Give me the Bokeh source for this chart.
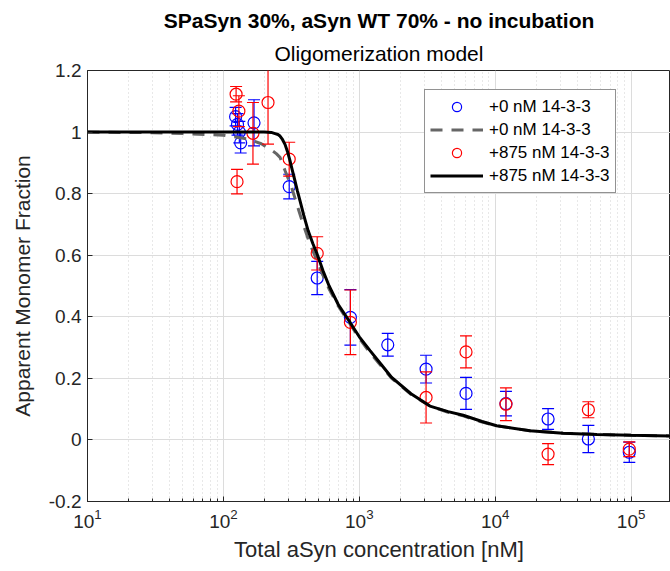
import numpy as np
from bokeh.plotting import figure
from bokeh.models import (FixedTicker, PrintfTickFormatter, Legend, LegendItem,
                          Title, Range1d, ColumnDataSource)
from bokeh.embed import file_html
from bokeh.resources import INLINE

# ---------------- data ----------------
blue_x = [123, 127, 131, 134, 168, 305, 490, 860, 1620, 3100, 6100, 12000, 24500, 48500, 97000]
blue_y = [1.05, 1.025, 1.0, 0.965, 1.03, 0.823, 0.526, 0.398, 0.309, 0.230, 0.151, 0.118, 0.068, 0.003, -0.04]
blue_err = [0.03, 0.035, 0.035, 0.033, 0.075, 0.04, 0.054, 0.09, 0.037, 0.045, 0.052, 0.04, 0.034, 0.044, 0.033]

red_x = [124, 130, 126, 165, 213, 305, 490, 860, 3100, 6100, 12000, 24500, 48500, 97000]
red_y = [1.123, 1.068, 0.839, 0.996, 1.096, 0.912, 0.606, 0.382, 0.138, 0.286, 0.116, -0.046, 0.098, -0.03]
red_err = [0.025, 0.05, 0.04, 0.1, 0.135, 0.055, 0.054, 0.105, 0.083, 0.052, 0.053, 0.034, 0.026, 0.024]

fit0_x = [10, 30, 50, 100, 150, 190, 220, 245, 261, 284, 318, 350, 387, 430, 480, 540, 600, 700,
          860, 1000, 1200, 1450, 1731, 2400, 3311, 4500, 5820, 8000, 10240, 18000, 31600, 56000, 100000, 200000]
fit0_y = [1.0, 0.998, 0.995, 0.99, 0.978, 0.962, 0.945, 0.93, 0.918, 0.875, 0.82, 0.76, 0.70, 0.64, 0.59,
          0.535, 0.49, 0.435, 0.375, 0.33, 0.283, 0.24, 0.2, 0.148, 0.11, 0.09, 0.078, 0.058, 0.046, 0.03,
          0.022, 0.018, 0.015, 0.013]

fit875_x = [10, 30, 100, 200, 225, 240, 252, 261, 272, 284, 296, 309, 322, 336, 350, 366, 390, 420, 455,
            493, 540, 600, 700, 860, 1000, 1200, 1450, 1731, 2400, 3311, 4500, 5820, 8000, 10240, 18000,
            31600, 56000, 100000, 200000]
fit875_y = [1.0, 1.0, 1.0, 1.0, 0.999, 0.995, 0.992, 0.987, 0.976, 0.96, 0.937, 0.907, 0.875, 0.842, 0.81,
            0.777, 0.73, 0.68, 0.638, 0.60, 0.55, 0.5, 0.44, 0.38, 0.335, 0.29, 0.245, 0.203, 0.15, 0.11,
            0.092, 0.08, 0.06, 0.046, 0.03, 0.022, 0.018, 0.015, 0.013]

x_major_ticks = [10, 100, 1000, 10000, 100000]
x_minor_ticks = [m * d for d in [10, 100, 1000, 10000, 100000] for m in range(2, 10)]
y_ticks = [-0.2, 0, 0.2, 0.4, 0.6, 0.8, 1.0, 1.2]

title_text = "SPaSyn 30%, aSyn WT 70% - no incubation"
subtitle_text = "Oligomerization model"
x_label = "Total aSyn concentration [nM]"
y_label = "Apparent Monomer Fraction"
legend_labels = ["+0 nM 14-3-3", "+0 nM 14-3-3", "+875 nM 14-3-3", "+875 nM 14-3-3"]

# ---------------- figure ----------------
FONT = "Liberation Sans"
TXT = "#262626"

p = figure(width=670, height=571, x_axis_type="log",
           x_range=Range1d(10, 1.95e5), y_range=Range1d(-0.2, 1.2),
           output_backend="svg", toolbar_location=None, title_location=None,
           min_border_left=87, min_border_right=0, min_border_top=70, min_border_bottom=70)

p.background_fill_color = "white"
p.border_fill_color = "white"
p.outline_line_color = TXT
p.outline_line_width = 1

# titles (first added is nearest to the frame)
p.add_layout(Title(text=subtitle_text, align="center", text_font=FONT, text_font_size="21px",
                   text_font_style="normal", text_color="black", standoff=12), "above")
p.add_layout(Title(text=title_text, align="center", text_font=FONT, text_font_size="21px",
                   text_font_style="bold", text_color="black", standoff=4), "above")

# axes
xa = p.xaxis[0]
xa.ticker = FixedTicker(ticks=x_major_ticks, minor_ticks=x_minor_ticks)
xa.axis_label = x_label
ya = p.yaxis[0]
ya.ticker = FixedTicker(ticks=y_ticks)
ya.formatter = PrintfTickFormatter(format="%g")
ya.axis_label = y_label
for ax in (xa, ya):
    ax.axis_label_text_font = FONT
    ax.axis_label_text_font_size = "21px"
    ax.axis_label_text_font_style = "normal"
    ax.axis_label_text_color = TXT
    ax.major_label_text_font = FONT
    ax.major_label_text_font_size = "19px"
    ax.major_label_text_color = TXT
    ax.axis_line_color = TXT
    ax.major_tick_line_color = TXT
    ax.minor_tick_line_color = TXT
    ax.major_tick_in = 5
    ax.major_tick_out = 0
    ax.minor_tick_in = 3
    ax.minor_tick_out = 0
ya.minor_tick_line_color = None
xa.axis_label_text_font_size = "22px"
xa.major_label_standoff = 7
xa.axis_label_standoff = 6
ya.major_label_standoff = 6
ya.axis_label_standoff = 12

# grids
p.xgrid.ticker = xa.ticker
p.ygrid.ticker = ya.ticker
p.xgrid.grid_line_color = "#dcdcdc"
p.ygrid.grid_line_color = "#dcdcdc"
p.xgrid.minor_grid_line_color = "#d0d0d0"
p.xgrid.minor_grid_line_dash = "1 3"

# ---------------- helpers ----------------
def errorbars(xs, ys, es, color):
    xs = np.array(xs, dtype=float)
    ys = np.array(ys, dtype=float)
    es = np.array(es, dtype=float)
    src = ColumnDataSource(dict(x=xs, y=ys, lo=ys - es, hi=ys + es))
    p.segment(x0="x", y0="lo", x1="x", y1="hi", source=src, line_color=color, line_width=1.2)
    p.scatter(x="x", y="lo", source=src, marker="dash", size=12, line_color=color, line_width=1.2)
    p.scatter(x="x", y="hi", source=src, marker="dash", size=12, line_color=color, line_width=1.2)
    circ = p.scatter(x="x", y="y", source=src, marker="circle", size=12, fill_color=None,
                     line_color=color, line_width=1.2)
    return [circ]

blue_r = errorbars(blue_x, blue_y, blue_err, "#0000ff")
gray_r = p.line(fit0_x, fit0_y, line_color="#666666", line_width=3, line_dash="12 9")
red_r = errorbars(red_x, red_y, red_err, "#ff0000")
black_r = p.line(fit875_x, fit875_y, line_color="black", line_width=3)

legend = Legend(items=[
    LegendItem(label=legend_labels[0], renderers=blue_r),
    LegendItem(label=legend_labels[1], renderers=[gray_r]),
    LegendItem(label=legend_labels[2], renderers=red_r),
    LegendItem(label=legend_labels[3], renderers=[black_r]),
], location=(337, 308))
legend.label_text_font = FONT
legend.label_text_font_size = "17px"
legend.label_text_color = "black"
legend.glyph_width = 53
legend.glyph_height = 23
legend.label_height = 23
legend.spacing = 0
legend.padding = 5
legend.margin = 0
legend.label_standoff = 6
legend.border_line_color = TXT
legend.border_line_width = 1
legend.background_fill_alpha = 1
p.add_layout(legend)

open("out.html", "w").write(file_html(p, INLINE))
